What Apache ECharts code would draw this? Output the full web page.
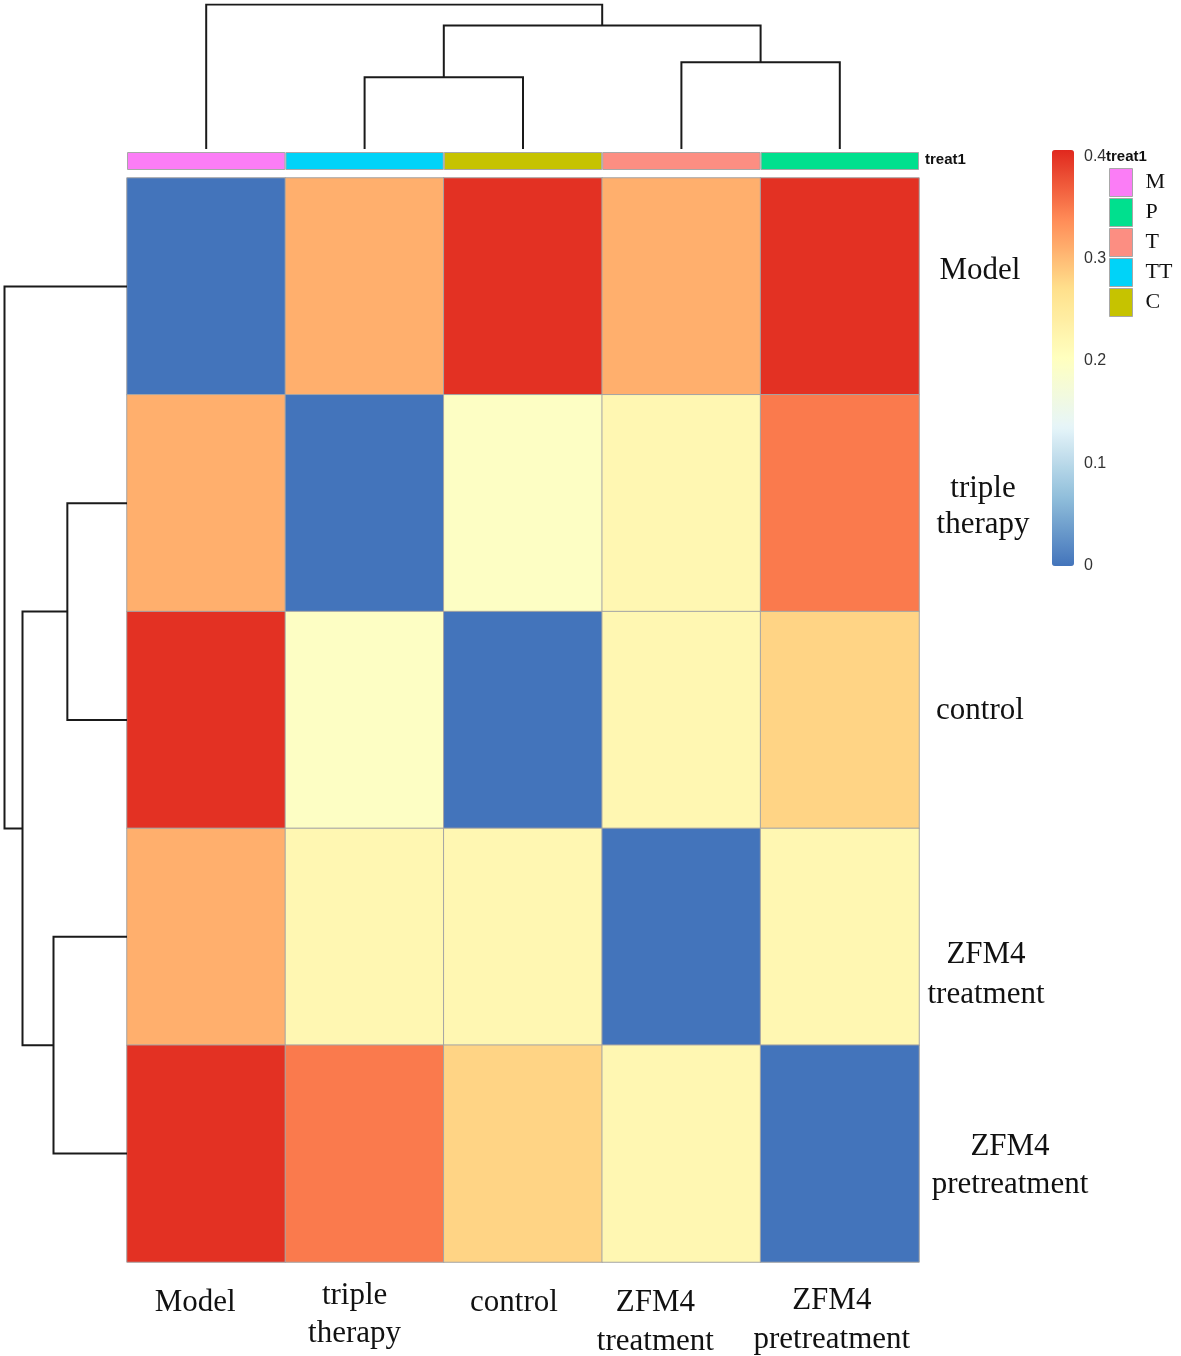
<!DOCTYPE html>
<html>
<head>
<meta charset="utf-8">
<script src="https://cdn.jsdelivr.net/npm/echarts@6/dist/echarts.min.js"></script>
<style>html,body{margin:0;padding:0;background:#fff;}#c{width:1181px;height:1356px;}</style>
</head>
<body>
<div id="c"></div>
<script>
// ---- data ----
const sampleLabels = ['Model', 'triple\ntherapy', 'control', 'ZFM4\ntreatment', 'ZFM4\npretreatment'];
const matrixModel        = [0.00, 0.31, 0.40, 0.31, 0.40];
const matrixTriple       = [0.31, 0.00, 0.197, 0.22, 0.35];
const matrixControl      = [0.40, 0.197, 0.00, 0.22, 0.28];
const matrixZFM4Treat    = [0.31, 0.22, 0.22, 0.00, 0.22];
const matrixZFM4Pretreat = [0.40, 0.35, 0.28, 0.22, 0.00];
const treatGroupOfSample = ['M', 'TT', 'C', 'T', 'P'];
const treatLegendOrder = ['M', 'P', 'T', 'TT', 'C'];
const treatColors = { M: '#FB7DF6', P: '#00E08E', T: '#FC8E82', TT: '#00D3F8', C: '#C6C300' };
const colorbarTicks = [0, 0.1, 0.2, 0.3, 0.4];
// hierarchical clustering merges: [left, right, height]; negative = leaf index (-(i+1)), positive = merge number (1-based)
const colMerges = [[-2, -3, 0.497], [-4, -5, 0.60], [1, 2, 0.855], [-1, 3, 1.0]];
const rowMerges = [[-2, -3, 0.487], [-4, -5, 0.60], [1, 2, 0.853], [-1, 3, 1.0]];

// ---- label layout (styles, not data) ----
const xLabelLayout = [
  { lh: [58], pad: [0, 22, 0, 0] },
  { lh: [44, 32], pad: [0, 20, 0, 0] },
  { lh: [58], pad: [0, 18, 0, 0] },
  { lh: [58, 20], pad: [0, 52, 0, 0] },
  { lh: [54, 24], pad: [0, 16, 0, 0] }
];
const yLabelLayout = [
  { lh: [32], va: 'bottom', pad: [0, 0, 0, 0] },
  { lh: [44, 28], va: 'middle', pad: [0, 0, 0, 6] },
  { lh: [18], va: 'bottom', pad: [0, 0, 0, 0] },
  { lh: [36, 44], va: 'top', pad: [0, 0, 0, 12] },
  { lh: [62, 14], va: 'middle', pad: [0, 0, 0, 60] }
];

const matrixRows = [matrixModel, matrixTriple, matrixControl, matrixZFM4Treat, matrixZFM4Pretreat];
const heatData = [];
matrixRows.forEach((row, r) => row.forEach((v, c) => heatData.push([c, r, v])));

function dendroSegments(merges, swap) {
  const pos = [], hgt = [];
  const get = (k) => k < 0 ? [(-k - 1) + 0.5, 0] : [pos[k - 1], hgt[k - 1]];
  const out = [];
  merges.forEach((m) => {
    const a = get(m[0]), b = get(m[1]), h = m[2];
    const pts = [[a[0], a[1]], [a[0], h], [b[0], h], [b[0], b[1]]];
    out.push({ coords: pts.map(p => swap ? [p[1], p[0]] : p) });
    pos.push((a[0] + b[0]) / 2); hgt.push(h);
  });
  return out;
}

const serif = 'Liberation Serif';
const sans = 'Liberation Sans';

function buildRich(prefix, layout) {
  const rich = {};
  layout.forEach((l, i) => l.lh.forEach((h, j) => {
    rich[prefix + i + '_' + j] = { fontFamily: serif, fontSize: 31, color: '#111', lineHeight: h, align: 'center' };
  }));
  return rich;
}
function richFormatter(prefix) {
  return (value, index) => String(value).split('\n').map((line, j) => '{' + prefix + index + '_' + j + '|' + line + '}').join('\n');
}

const chart = echarts.init(document.getElementById('c'));
const annSeries = treatLegendOrder.map((g) => ({
  name: g, type: 'bar', xAxisIndex: 1, yAxisIndex: 1, stack: 'ann', barWidth: '100%',
  itemStyle: { color: treatColors[g], borderColor: '#A8A8A8', borderWidth: 1 },
  data: treatGroupOfSample.map((s) => s === g ? 1 : '-'), silent: true
}));

const gridBase = { outerBoundsMode: 'none', containLabel: false };

chart.setOption({
  animation: false,
  backgroundColor: '#fff',
  title: [
    { text: 'treat1', left: 925, top: 152, padding: 0, textStyle: { fontFamily: sans, fontWeight: 'bold', fontSize: 15, color: '#111' } },
    { text: 'treat1', left: 1106, top: 149, padding: 0, textStyle: { fontFamily: sans, fontWeight: 'bold', fontSize: 15, color: '#111' } }
  ],
  legend: {
    data: treatLegendOrder, orient: 'vertical', left: 1109, top: 168, padding: 0,
    itemWidth: 23, itemHeight: 28, itemGap: 1, icon: 'rect', selectedMode: false,
    itemStyle: { borderColor: '#A8A8A8', borderWidth: 1 },
    textStyle: { fontFamily: serif, fontSize: 22, color: '#111', padding: [0, 0, 7, 8] }
  },
  visualMap: {
    type: 'continuous', seriesIndex: 0, min: 0, max: 0.406, calculable: false,
    left: 1052, top: 150, padding: 0, itemWidth: 22, itemHeight: 416, text: null, showLabel: false,
    inRange: { color: ['#4374BB', '#91BFDB', '#E6F5F9', '#FFFFBF', '#FFE08C', '#FF8B57', '#E0281E'] }
  },
  grid: [
    Object.assign({ left: 127, top: 178, width: 792, height: 1084 }, gridBase),
    Object.assign({ left: 127, top: 152, width: 792, height: 18 }, gridBase),
    Object.assign({ left: 127, top: 4.5, width: 792, height: 144.5 }, gridBase),
    Object.assign({ left: 4.5, top: 178, width: 122.5, height: 1084 }, gridBase),
    Object.assign({ left: 1074, top: 150, width: 1, height: 416 }, gridBase)
  ],
  xAxis: [
    { gridIndex: 0, type: 'category',
      data: sampleLabels.map((s, i) => ({ value: s, textStyle: { padding: xLabelLayout[i].pad, align: 'center', verticalAlign: 'top' } })),
      axisLine: { show: false }, axisTick: { show: false }, splitLine: { show: false },
      axisLabel: { interval: 0, margin: 12, color: '#111', verticalAlign: 'top',
        formatter: richFormatter('x'), rich: buildRich('x', xLabelLayout) } },
    { gridIndex: 1, type: 'category', data: sampleLabels, show: false },
    { gridIndex: 2, type: 'value', min: 0, max: 5, show: false },
    { gridIndex: 3, type: 'value', min: 0, max: 1, inverse: true, show: false },
    { gridIndex: 4, type: 'value', show: false }
  ],
  yAxis: [
    { gridIndex: 0, type: 'category', inverse: true, position: 'right',
      data: sampleLabels.map((s, i) => ({ value: s, textStyle: { padding: yLabelLayout[i].pad, align: 'center', verticalAlign: yLabelLayout[i].va } })),
      axisLine: { show: false }, axisTick: { show: false }, splitLine: { show: false },
      axisLabel: { interval: 0, margin: 61, align: 'center', color: '#111',
        formatter: richFormatter('y'), rich: buildRich('y', yLabelLayout) } },
    { gridIndex: 1, type: 'value', min: 0, max: 1, show: false },
    { gridIndex: 2, type: 'value', min: 0, max: 1, show: false },
    { gridIndex: 3, type: 'value', min: 0, max: 5, inverse: true, show: false },
    { gridIndex: 4, type: 'value', min: 0, max: 0.406, interval: 0.1, position: 'right',
      axisLine: { show: false }, axisTick: { show: false }, splitLine: { show: false },
      axisLabel: { margin: 9, fontFamily: sans, fontSize: 16, color: '#333', showMaxLabel: false,
        formatter: (v) => colorbarTicks.some(t => Math.abs(t - v) < 1e-9) ? String(Math.round(v * 10) / 10) : '' } }
  ],
  series: [
    { type: 'heatmap', xAxisIndex: 0, yAxisIndex: 0, data: heatData,
      itemStyle: { borderColor: '#A4A4A4', borderWidth: 1 }, label: { show: false } },
    ...annSeries,
    { type: 'lines', coordinateSystem: 'cartesian2d', xAxisIndex: 2, yAxisIndex: 2, polyline: true,
      data: dendroSegments(colMerges, false), lineStyle: { color: '#1a1a1a', width: 2, opacity: 1 }, silent: true },
    { type: 'lines', coordinateSystem: 'cartesian2d', xAxisIndex: 3, yAxisIndex: 3, polyline: true,
      data: dendroSegments(rowMerges, true), lineStyle: { color: '#1a1a1a', width: 2, opacity: 1 }, silent: true }
  ]
});
</script>
</body>
</html>
